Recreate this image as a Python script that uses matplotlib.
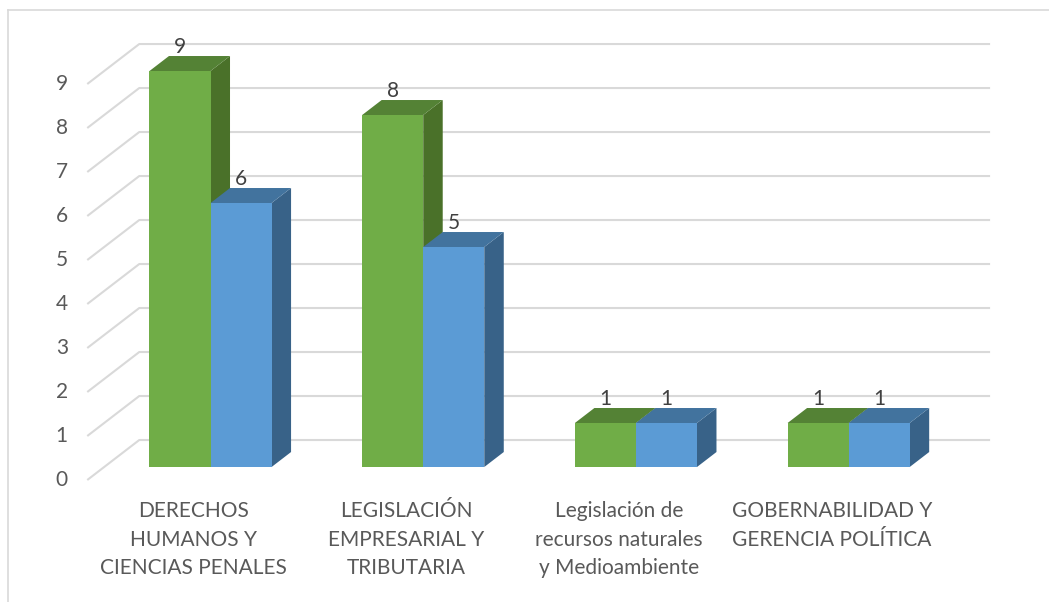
import matplotlib
matplotlib.use('Agg')
import matplotlib.pyplot as plt
from matplotlib.patches import Polygon
from matplotlib.lines import Line2D

plt.rcParams['font.family'] = ['Lato', 'DejaVu Sans']

categorias = ['DERECHOS\nHUMANOS Y\nCIENCIAS PENALES',
              'LEGISLACIÓN\nEMPRESARIAL Y\nTRIBUTARIA',
              'Legislación de\nrecursos naturales\ny Medioambiente',
              'GOBERNABILIDAD Y\nGERENCIA POLÍTICA']
serie_verde = [9, 8, 1, 1]
serie_azul = [6, 5, 1, 1]
ticks = list(range(10))

# colores de cada serie: frente, tapa, lado
col_verde = ('#70AD47', '#548235', '#4A7129')
col_azul = ('#5B9BD5', '#42739E', '#386288')
col_grid = '#D9D9D9'
col_txt = '#595959'

# proyeccion oblicua: una unidad de profundidad mueve a la derecha y arriba
DX, DY = 0.2445, 0.909
D_FRONT, D_BAR, D_WALL = -0.325, 0.375, 0.675   # relativo a la cara frontal
W = 0.287

fig = plt.figure(figsize=(10.49, 6.02), dpi=100)
ax = fig.add_axes([0, 0, 1, 1])
ax.set_xlim(-0.9897, 3.942)
ax.set_ylim(-3.068, 10.614)
ax.axis('off')

x_izq, x_der = -0.5, len(categorias) - 0.5

# paredes: lineas de la pared izquierda y de la pared del fondo
for v in ticks:
    ax.plot([x_izq + D_FRONT * DX, x_izq + D_WALL * DX, x_der + D_WALL * DX],
            [v + D_FRONT * DY, v + D_WALL * DY, v + D_WALL * DY],
            color=col_grid, lw=1.5, zorder=1, solid_capstyle='butt')
    ax.annotate(str(v), (x_izq + D_FRONT * DX, v + D_FRONT * DY), xytext=(-14, 0),
                textcoords='offset points', ha='right', va='center',
                fontsize=15, color=col_txt)

ddx, ddy = DX * D_BAR, DY * D_BAR

def barra3d(x0, v, cols, z):
    x1 = x0 + W
    ax.bar(x0, v, width=W, align='edge', color=cols[0], zorder=z + 0.2)
    lado = Polygon([(x1, 0), (x1, v), (x1 + ddx, v + ddy), (x1 + ddx, ddy)],
                   closed=True, facecolor=cols[2], edgecolor='none', zorder=z)
    tapa = Polygon([(x0, v), (x1, v), (x1 + ddx, v + ddy), (x0 + ddx, v + ddy)],
                   closed=True, facecolor=cols[1], edgecolor='none', zorder=z + 0.1)
    ax.add_patch(lado)
    ax.add_patch(tapa)
    ax.annotate(str(v), (x0 + W / 2, v + ddy), xytext=(0, -1),
                textcoords='offset points', ha='center', va='bottom',
                fontsize=15, color='#404040', zorder=z + 0.3)

for i in range(len(categorias)):
    barra3d(i - W, serie_verde[i], col_verde, 2)
    barra3d(i, serie_azul[i], col_azul, 3)
    ax.annotate(categorias[i], (i + D_FRONT * DX, D_FRONT * DY), xytext=(0, -15),
                textcoords='offset points', ha='center', va='top',
                multialignment='center', linespacing=1.55,
                fontsize=15, color=col_txt)

# borde del area del grafico
fig.add_artist(Line2D([8 / 1049, 8 / 1049], [-0.1, 1 - 10 / 602], color=col_grid, lw=1.2))
fig.add_artist(Line2D([8 / 1049, 1.1], [1 - 10 / 602, 1 - 10 / 602], color=col_grid, lw=1.2))

fig.savefig('out.png', dpi=100)
